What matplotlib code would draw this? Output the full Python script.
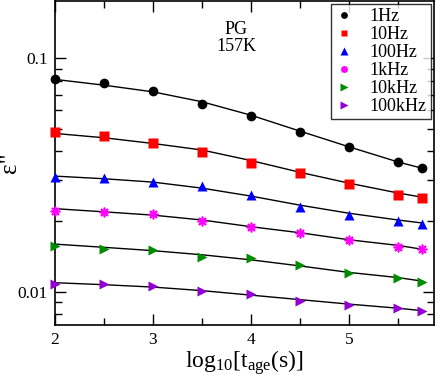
import numpy as np
import matplotlib
matplotlib.use("Agg")
import matplotlib.pyplot as plt
from matplotlib.ticker import LogLocator, FixedLocator, NullFormatter

plt.rcParams['font.family'] = ['Liberation Serif', 'DejaVu Serif']
plt.rcParams['mathtext.fontset'] = 'custom'
plt.rcParams['mathtext.rm'] = 'Liberation Serif'
plt.rcParams['mathtext.it'] = 'Liberation Serif'

log_tage = [2.0, 2.5, 3.0, 3.5, 4.0, 4.5, 5.0, 5.5, 5.75]
labels = ["1Hz", "10Hz", "100Hz", "1kHz", "10kHz", "100kHz"]

eps_1hz = [0.0818, 0.0781, 0.0726, 0.0639, 0.0564, 0.0485, 0.0418, 0.0360, 0.0339]
eps_10hz = [0.0482, 0.0463, 0.0434, 0.0399, 0.0358, 0.0322, 0.0289, 0.0259, 0.0252]
eps_100hz = [0.0311, 0.0306, 0.0294, 0.0284, 0.0259, 0.0231, 0.0214, 0.0201, 0.0196]
eps_1khz = [0.0222, 0.0219, 0.0215, 0.0201, 0.0189, 0.0178, 0.0166, 0.0156, 0.0152]
eps_10khz = [0.0157, 0.0153, 0.0151, 0.0141, 0.0139, 0.0130, 0.0120, 0.0114, 0.0110]
eps_100khz = [0.01078, 0.01075, 0.01057, 0.01009, 0.00974, 0.00914, 0.00876, 0.00848, 0.00826]

# fitted curves
fit_1hz = [0.0813, 0.0768, 0.0719, 0.0652, 0.0571, 0.0488, 0.0418, 0.0360, 0.0338]
fit_10hz = [0.0477, 0.0457, 0.0432, 0.0405, 0.0365, 0.0325, 0.0292, 0.0265, 0.0254]
fit_100hz = [0.0313, 0.0305, 0.0295, 0.0278, 0.0257, 0.0235, 0.0217, 0.0203, 0.0197]
fit_1khz = [0.0227, 0.0220, 0.0213, 0.0203, 0.0190, 0.0179, 0.0167, 0.0158, 0.0152]
fit_10khz = [0.0160, 0.0155, 0.0150, 0.0144, 0.0137, 0.0129, 0.0121, 0.0115, 0.0111]
fit_100khz = [0.01093, 0.01072, 0.01047, 0.01011, 0.00967, 0.00925, 0.00885, 0.00850, 0.00829]

data = [eps_1hz, eps_10hz, eps_100hz, eps_1khz, eps_10khz, eps_100khz]
fits = [fit_1hz, fit_10hz, fit_100hz, fit_1khz, fit_10khz, fit_100khz]
colors = ["black", "#ff0000", "#0000ff", "#ff00ff", "#008b00", "#9400d3"]
markers = ["o", "s", "^", (8, 2, 0), ">", ">"]
msizes = [7, 6.5, 7.5, 7, 7.5, 7.5]

fig = plt.figure(figsize=(4.36, 3.77), dpi=100)
ax = fig.add_axes([0.126, 0.139, 0.869, 0.858])

for y, f, c, m, ms, lab in zip(data, fits, colors, markers, msizes, labels):
    ax.plot(log_tage, f, color="black", lw=1.0, zorder=2)
    kw = dict(mec=c, mew=1.2) if isinstance(m, tuple) else dict(mec="none")
    ax.plot(log_tage, y, ls="none", marker=m, ms=ms, color=c, label=lab,
            zorder=3, clip_on=False, **kw)

ax.set_yscale("log")
ax.set_xlim(2.0, 5.866)
ax.set_ylim(0.00723, 0.176)

ax.xaxis.set_major_locator(FixedLocator([2, 3, 4, 5]))
ax.xaxis.set_minor_locator(FixedLocator([2.5, 3.5, 4.5, 5.5]))
ax.yaxis.set_major_locator(LogLocator(base=10))
ax.yaxis.set_minor_locator(LogLocator(base=10, subs=np.arange(2, 10)))
ax.yaxis.set_minor_formatter(NullFormatter())
ax.set_yticks([0.01, 0.1])
ax.set_yticklabels(["0.01", "0.1"])

ax.tick_params(which="both", direction="in", top=True, right=True,
               labelsize=12.5, width=1)
ax.tick_params(which="major", length=8, pad=5)
ax.tick_params(which="minor", length=5)
for s in ax.spines.values():
    s.set_linewidth(1.2)

ax.set_xlabel(r"log$_{10}$[t$_{\rm age}$(s)]", fontsize=17)
ax.xaxis.set_label_coords(0.5, -0.072)
ax.set_ylabel('ε"', fontsize=18)
ax.yaxis.set_label_coords(-0.09, 0.5)

ax.text(3.85, 0.133, "PG", ha="center", va="center", fontsize=13)
ax.text(3.85, 0.112, "157K", ha="center", va="center", fontsize=13)

leg = ax.legend(loc="upper right", fontsize=13, frameon=True, fancybox=False,
                edgecolor="black", markerscale=0.7, handlelength=1.0,
                handletextpad=0.9, labelspacing=0.05, borderpad=0.25,
                borderaxespad=0.15, numpoints=1)
leg.get_frame().set_linewidth(1.0)

plt.savefig("out.png", dpi=100)
